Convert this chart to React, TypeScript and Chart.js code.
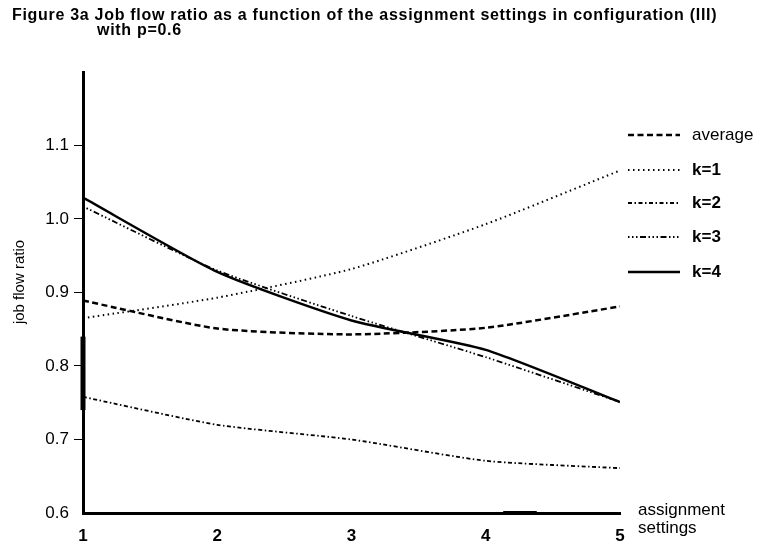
import React, { useEffect, useRef } from 'react';
import { Chart, registerables } from 'chart.js';

Chart.register(...registerables);

// ---- data ----
const titleLines = [
  'Figure 3a Job flow ratio as a function of the assignment settings in configuration (III)',
  'with p=0.6',
];
const xSettings = [1, 2, 3, 4, 5];
const averageValues = [0.889, 0.851, 0.843, 0.852, 0.881];
const k1Values = [0.865, 0.893, 0.932, 0.993, 1.066];
const k2Values = [0.758, 0.72, 0.7, 0.671, 0.661];
const k3Values = [1.017, 0.93, 0.868, 0.812, 0.751];
const k4Values = [1.029, 0.928, 0.862, 0.822, 0.751];
const seriesLabels = ['average', 'k=1', 'k=2', 'k=3', 'k=4'];
const yTickValues = [0.6, 0.7, 0.8, 0.9, 1.0, 1.1];
const xTickValues = [1, 2, 3, 4, 5];
const yTitle = 'job flow ratio';
const xTitleLines = ['assignment', 'settings'];
// scan blemishes visible in the reference
const scanMarkAX = [1, 1];
const scanMarkAY = [0.74, 0.84];
const scanMarkBX = [4.13, 4.38];
const scanMarkBY = [0.6, 0.6];

const FONT = '"Liberation Sans", Arial, Helvetica, sans-serif';

const toPoints = (xs: number[], ys: number[]) => xs.map((x, i) => ({ x, y: ys[i] }));

const overlayPlugin = {
  id: 'overlayText',
  afterDraw(chart: any) {
    const ctx = chart.ctx as CanvasRenderingContext2D;
    ctx.save();
    ctx.fillStyle = '#000';
    ctx.textBaseline = 'middle';
    ctx.textAlign = 'left';
    // title
    ctx.font = `bold 16px ${FONT}`;
    (ctx as any).letterSpacing = '0.7px';
    ctx.fillText(titleLines[0], 12, 16);
    ctx.fillText(titleLines[1], 97, 31);
    (ctx as any).letterSpacing = '0px';
    // y axis title
    ctx.save();
    ctx.translate(20, 282);
    ctx.rotate(-Math.PI / 2);
    ctx.textAlign = 'center';
    ctx.font = `15px ${FONT}`;
    ctx.fillText(yTitle, 0, 0);
    ctx.restore();
    // legend
    const rowY = [135, 170, 203, 237, 272];
    chart.data.datasets.forEach((ds: any, i: number) => {
      if (i >= seriesLabels.length) return;
      const y = rowY[i];
      ctx.beginPath();
      ctx.setLineDash(ds.borderDash || []);
      ctx.lineWidth = ds.borderWidth;
      ctx.strokeStyle = ds.borderColor;
      ctx.lineCap = 'butt';
      ctx.moveTo(628, y);
      ctx.lineTo(680, y);
      ctx.stroke();
      ctx.setLineDash([]);
      ctx.font = `${i === 0 ? '' : 'bold '}17px ${FONT}`;
      ctx.fillText(ds.label, 692, y);
    });
    // x axis title
    ctx.font = `17px ${FONT}`;
    ctx.fillText(xTitleLines[0], 638, 510);
    ctx.fillText(xTitleLines[1], 638, 528);
    ctx.restore();
  },
};

export default function App() {
  const canvasRef = useRef<HTMLCanvasElement | null>(null);

  useEffect(() => {
    if (!canvasRef.current) return;
    const line = (label: string, values: number[], width: number, dash: number[]) => ({
      label,
      data: toPoints(xSettings, values),
      borderColor: '#000',
      backgroundColor: '#000',
      borderWidth: width,
      borderDash: dash,
      pointRadius: 0,
      tension: 0.2,
      fill: false,
    });
    const chart = new Chart(canvasRef.current, {
      type: 'line',
      data: {
        datasets: [
          line(seriesLabels[0], averageValues, 2.5, [6, 3.5]),
          line(seriesLabels[1], k1Values, 2, [1.5, 3.5]),
          line(seriesLabels[2], k2Values, 1.8, [4, 2.5, 1.5, 2.5]),
          line(seriesLabels[3], k3Values, 1.8, [1.5, 2.5, 1.5, 2.5, 1.5, 2.5, 6, 2.5]),
          line(seriesLabels[4], k4Values, 2.5, []),
          {
            label: 'scanA',
            data: toPoints(scanMarkAX, scanMarkAY),
            borderColor: '#000',
            borderWidth: 5,
            pointRadius: 0,
            clip: false,
          } as any,
          {
            label: 'scanB',
            data: toPoints(scanMarkBX, scanMarkBY),
            borderColor: '#000',
            borderWidth: 4,
            pointRadius: 0,
            clip: false,
          } as any,
        ],
      },
      options: {
        responsive: false,
        animation: false,
        layout: { padding: { left: 0, right: 138, top: 72, bottom: 0 } },
        plugins: {
          legend: { display: false },
          title: { display: false },
          tooltip: { enabled: false },
        },
        scales: {
          x: {
            type: 'linear',
            min: 1,
            max: 5,
            afterBuildTicks: (scale: any) => {
              scale.ticks = xTickValues.map((v) => ({ value: v }));
            },
            afterFit: (scale: any) => {
              scale.height = 32;
            },
            ticks: {
              color: '#000',
              font: { family: FONT, size: 17, weight: 'bold' },
              padding: 5,
              maxRotation: 0,
              callback: (v: any) => String(v),
            },
            grid: { display: false },
            border: { display: true, color: '#000', width: 3 },
          },
          y: {
            type: 'linear',
            min: 0.6,
            max: 1.2,
            afterBuildTicks: (scale: any) => {
              scale.ticks = yTickValues.map((v) => ({ value: v }));
            },
            afterFit: (scale: any) => {
              scale.width = 83;
            },
            ticks: {
              color: '#000',
              font: { family: FONT, size: 17 },
              padding: 5,
              callback: (v: any) => Number(v).toFixed(1),
            },
            grid: {
              display: true,
              drawOnChartArea: false,
              drawTicks: true,
              tickLength: 9,
              lineWidth: 1,
              color: (c: any) => (c.tick && c.tick.value <= 0.6001 ? 'rgba(0,0,0,0)' : '#000'),
            },
            border: { display: true, color: '#000', width: 3 },
            title: { display: false },
          },
        },
      },
      plugins: [overlayPlugin],
    } as any);
    return () => chart.destroy();
  }, []);

  return (
    <div style={{ position: 'fixed', left: 0, top: 0, width: 758, height: 545, background: '#fff' }}>
      <canvas ref={canvasRef} width={758} height={545} />
    </div>
  );
}
